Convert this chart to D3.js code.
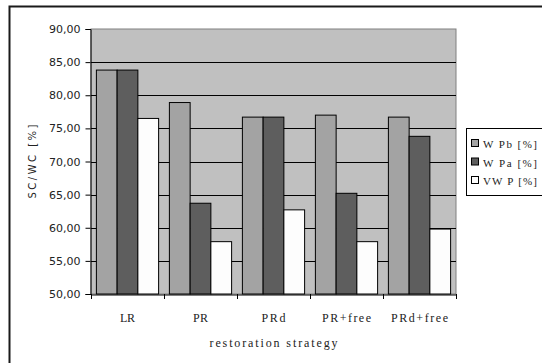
<!DOCTYPE html>
<html>
<head>
<meta charset="utf-8">
<script src="https://cdn.jsdelivr.net/npm/d3@7"></script>
<style>
html,body{margin:0;padding:0;background:#fff;}
svg{display:block;}
</style>
</head>
<body>
<svg id="chart" width="542" height="363"></svg>
<script>
const categories = ["LR", "PR", "PRd", "PR+free", "PRd+free"];
const seriesNames = ["W Pb [%]", "W Pa [%]", "VW P [%]"];
const seriesWPb = [83.8, 78.9, 76.7, 77.0, 76.7];
const seriesWPa = [83.8, 63.7, 76.7, 65.2, 73.8];
const seriesVWP = [76.5, 57.9, 62.7, 57.9, 59.8];
const yTicks = [50, 55, 60, 65, 70, 75, 80, 85, 90];
const seriesColors = ["#A3A3A3", "#5E5E5E", "#FDFDFD"];
const yTitle = "SC/WC [%]";
const xTitle = "restoration strategy";

(function () {
const series = [seriesWPb, seriesWPa, seriesVWP];
const svg = d3.select("#chart");

// outer chart frame
svg.append("rect").attr("x", 9.5).attr("y", 6.5).attr("width", 600).attr("height", 400)
  .attr("fill", "none").attr("stroke", "#1a1a1a").attr("stroke-width", 2);

const pLeft = 91, pRight = 456, pTop = 29, pBottom = 294;
const x = d3.scaleBand().domain(categories).range([pLeft, pRight]).paddingInner(0).paddingOuter(0);
const xi = d3.scaleBand().domain(d3.range(3)).range([0, x.bandwidth()]).paddingInner(0).paddingOuter(0.26);
const y = d3.scaleLinear().domain([50, 90]).range([pBottom, pTop]);

// plot background
svg.append("rect").attr("x", pLeft).attr("y", pTop).attr("width", pRight - pLeft).attr("height", pBottom - pTop)
  .attr("fill", "#C0C0C0").attr("stroke", "#808080").attr("stroke-width", 1);

// gridlines
svg.append("g").selectAll("line").data(yTicks.filter(t => t > 50 && t < 90)).join("line")
  .attr("x1", pLeft).attr("x2", pRight)
  .attr("y1", d => Math.round(y(d)) + 0.5).attr("y2", d => Math.round(y(d)) + 0.5)
  .attr("stroke", "#000").attr("stroke-width", 1);

// bars
const groups = svg.append("g").selectAll("g").data(categories).join("g")
  .attr("transform", d => `translate(${x(d)},0)`);
groups.selectAll("rect").data((d, i) => series.map((s, k) => ({k, v: s[i]}))).join("rect")
  .attr("x", d => xi(d.k))
  .attr("width", xi.bandwidth())
  .attr("y", d => y(d.v))
  .attr("height", d => y(50) - y(d.v))
  .attr("fill", d => seriesColors[d.k])
  .attr("stroke", "#000").attr("stroke-width", 1);

// y axis
const yAxis = d3.axisLeft(y).tickValues(yTicks).tickSize(5).tickPadding(5)
  .tickFormat(d => d3.format(".2f")(d).replace(".", ","));
const ya = svg.append("g").attr("transform", `translate(${pLeft - 0.5},0)`).call(yAxis);
ya.select(".domain").attr("stroke", "#000");
ya.selectAll(".tick line").attr("stroke", "#000");
ya.selectAll("text").attr("font-family", "DejaVu Sans, Verdana, sans-serif").attr("font-size", 11).attr("fill", "#222");

// x axis
const xAxis = d3.axisBottom(x).tickSize(0).tickPadding(0).tickFormat("");
const xa = svg.append("g").attr("transform", `translate(0,${pBottom + 0.5})`).call(xAxis);
xa.select(".domain").attr("stroke", "#000");
xa.selectAll(".tick").remove();
// category boundary ticks
svg.append("g").selectAll("line").data(categories.map(c => x(c)).concat([pRight])).join("line")
  .attr("x1", d => Math.round(d) + 0.5).attr("x2", d => Math.round(d) + 0.5)
  .attr("y1", pBottom).attr("y2", pBottom + 5)
  .attr("stroke", "#000");

const labelWidths = [15, 15, 24, 49, 57];
svg.append("g").selectAll("text").data(categories).join("text")
  .attr("x", d => x(d) + x.bandwidth() / 2)
  .attr("y", 322)
  .attr("text-anchor", "middle")
  .attr("font-family", "Liberation Serif, serif").attr("font-size", 12).attr("fill", "#222")
  .attr("textLength", (d, i) => labelWidths[i]).attr("lengthAdjust", "spacing")
  .text(d => d);

svg.append("text").attr("x", (pLeft + pRight) / 2).attr("y", 347).attr("text-anchor", "middle")
  .attr("font-family", "Liberation Serif, serif").attr("font-size", 12).attr("fill", "#222")
  .attr("textLength", 128).attr("lengthAdjust", "spacing")
  .text(xTitle);

svg.append("text").attr("transform", `translate(36,${(pTop + pBottom) / 2}) rotate(-90)`)
  .attr("text-anchor", "middle")
  .attr("font-family", "DejaVu Sans, Verdana, sans-serif").attr("font-size", 10).attr("fill", "#222")
  .attr("textLength", 74).attr("lengthAdjust", "spacing")
  .text(yTitle);

// legend
const lg = svg.append("g");
lg.append("rect").attr("x", 466.5).attr("y", 128.5).attr("width", 100).attr("height", 67)
  .attr("fill", "#fff").attr("stroke", "#000");
const ly = [144, 162.5, 181];
const items = lg.selectAll("g").data(seriesNames).join("g")
  .attr("transform", (d, i) => `translate(0,${ly[i]})`);
items.append("rect").attr("x", 471.5).attr("y", -4.5).attr("width", 7).attr("height", 7)
  .attr("fill", (d, i) => seriesColors[i]).attr("stroke", "#000");
items.append("text").attr("x", 483).attr("y", 4)
  .attr("font-family", "Liberation Serif, serif").attr("font-size", 11).attr("fill", "#222")
  .attr("textLength", 54).attr("lengthAdjust", "spacing")
  .text(d => d);
})();
</script>
</body>
</html>
